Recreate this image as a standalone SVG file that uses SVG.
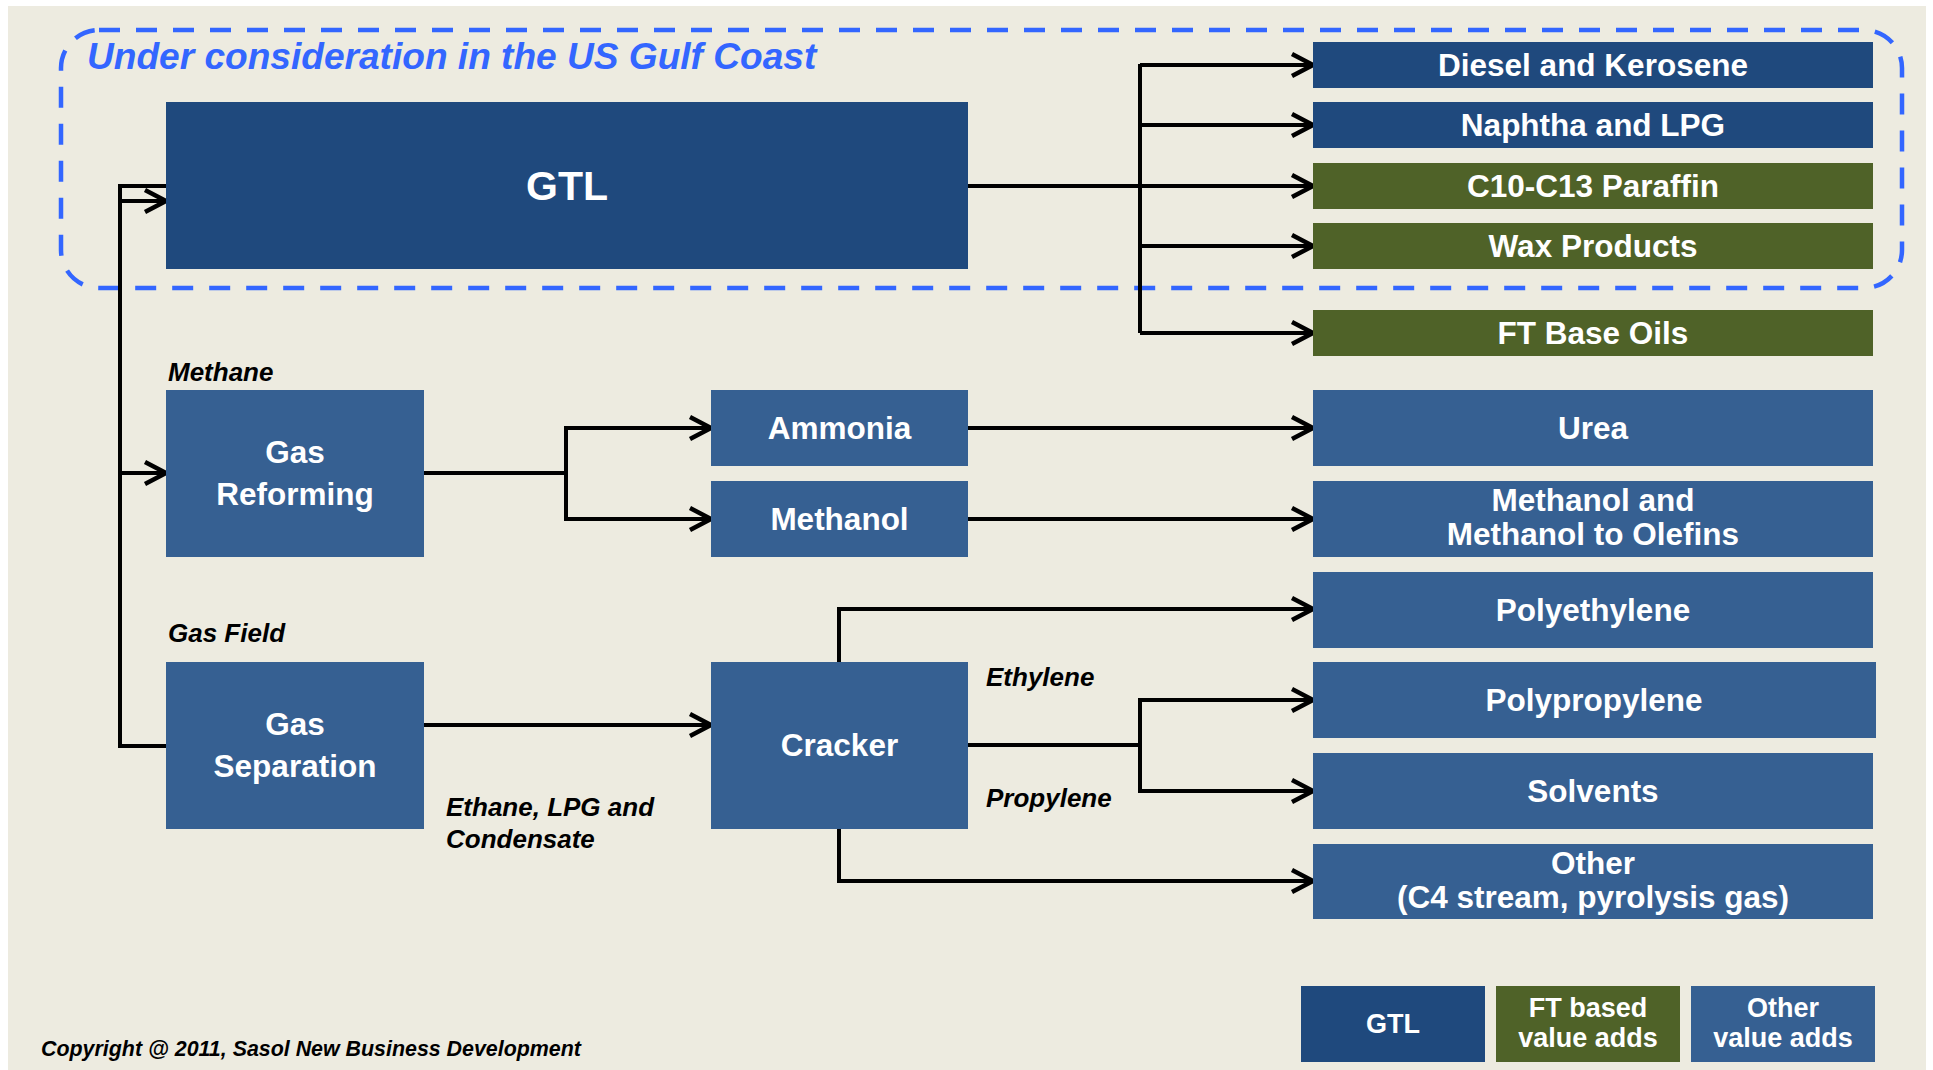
<svg xmlns="http://www.w3.org/2000/svg" width="1933" height="1070" viewBox="0 0 1933 1070">
  <defs>
    <style>
      .bg { fill: #EDEBE0; }
      .gtl { fill: #1F497D; }
      .ft { fill: #4F6228; }
      .oth { fill: #366092; }
      .t { font-family: "Liberation Sans", Arial, sans-serif; font-weight: bold; fill: #FFFFFF; text-anchor: middle; font-size: 31.5px; }
      .big { font-size: 41px; }
      .lbl { font-family: "Liberation Sans", Arial, sans-serif; font-weight: bold; font-style: italic; fill: #000000; font-size: 26px; }
      .leg { font-family: "Liberation Sans", Arial, sans-serif; font-weight: bold; fill: #FFFFFF; text-anchor: middle; font-size: 27px; }
      .ln { fill: none; stroke: #000000; stroke-width: 4; }
      .ar { fill: none; stroke: #000000; stroke-width: 4; marker-end: url(#arrow); }
    </style>
    <marker id="arrow" markerUnits="userSpaceOnUse" markerWidth="30" markerHeight="30" refX="24" refY="15" orient="auto" overflow="visible">
      <path d="M3,4 L24,15 L3,26" fill="none" stroke="#000000" stroke-width="4.5" stroke-linejoin="miter"/>
    </marker>
  </defs>

  <rect x="0" y="0" width="1933" height="1070" fill="#FFFFFF"/>
  <rect class="bg" x="8" y="6" width="1918" height="1064"/>

  <g id="gulf-coast-region">
    <rect x="61" y="30" width="1841" height="258" rx="38" ry="38" fill="none" stroke="#3366FF" stroke-width="4.5" stroke-dasharray="21 16"/>
    <text x="87" y="69" font-family="'Liberation Sans', Arial, sans-serif" font-weight="bold" font-style="italic" font-size="37.1" fill="#3366FF">Under consideration in the US Gulf Coast</text>
  </g>

  <g id="connectors">
    <path class="ln" d="M166,746 H120 V186 H166"/>
    <path class="ar" d="M120,201 H166"/>
    <path class="ar" d="M120,473 H166"/>
    <path class="ln" d="M968,186 H1140 M1140,64 V333"/>
    <path class="ar" d="M1140,65 H1313"/>
    <path class="ar" d="M1140,125 H1313"/>
    <path class="ar" d="M1140,186 H1313"/>
    <path class="ar" d="M1140,246 H1313"/>
    <path class="ar" d="M1140,333 H1313"/>
    <path class="ln" d="M424,473 H566 M566,426 V521"/>
    <path class="ar" d="M566,428 H711"/>
    <path class="ar" d="M566,519 H711"/>
    <path class="ar" d="M968,428 H1313"/>
    <path class="ar" d="M968,519 H1313"/>
    <path class="ar" d="M424,725 H711"/>
    <path class="ar" d="M839,662 V609 H1313"/>
    <path class="ar" d="M839,829 V881 H1313"/>
    <path class="ln" d="M968,745 H1140 M1140,698 V793"/>
    <path class="ar" d="M1140,700 H1313"/>
    <path class="ar" d="M1140,791 H1313"/>
  </g>

  <g id="node-gtl">
    <rect class="gtl" x="166" y="102" width="802" height="167"/>
    <text class="t big" x="567" y="200">GTL</text>
  </g>

  <g id="node-diesel">
    <rect class="gtl" x="1313" y="42" width="560" height="46"/>
    <text class="t" x="1593" y="76">Diesel and Kerosene</text>
  </g>
  <g id="node-naphtha">
    <rect class="gtl" x="1313" y="102" width="560" height="46"/>
    <text class="t" x="1593" y="136">Naphtha and LPG</text>
  </g>
  <g id="node-paraffin">
    <rect class="ft" x="1313" y="163" width="560" height="46"/>
    <text class="t" x="1593" y="197">C10-C13 Paraffin</text>
  </g>
  <g id="node-wax">
    <rect class="ft" x="1313" y="223" width="560" height="46"/>
    <text class="t" x="1593" y="257">Wax Products</text>
  </g>
  <g id="node-baseoils">
    <rect class="ft" x="1313" y="310" width="560" height="46"/>
    <text class="t" x="1593" y="344">FT Base Oils</text>
  </g>

  <g id="label-methane"><text class="lbl" x="168" y="381">Methane</text></g>
  <g id="label-gasfield"><text class="lbl" x="168" y="642">Gas Field</text></g>
  <g id="label-ethane">
    <text class="lbl" x="446" y="816">Ethane, LPG and</text>
    <text class="lbl" x="446" y="848">Condensate</text>
  </g>
  <g id="label-ethylene"><text class="lbl" x="986" y="686">Ethylene</text></g>
  <g id="label-propylene"><text class="lbl" x="986" y="807">Propylene</text></g>

  <g id="node-gas-reforming">
    <rect class="oth" x="166" y="390" width="258" height="167"/>
    <text class="t" x="295" y="463">Gas</text>
    <text class="t" x="295" y="505">Reforming</text>
  </g>
  <g id="node-ammonia">
    <rect class="oth" x="711" y="390" width="257" height="76"/>
    <text class="t" x="839.5" y="439">Ammonia</text>
  </g>
  <g id="node-methanol">
    <rect class="oth" x="711" y="481" width="257" height="76"/>
    <text class="t" x="839.5" y="530">Methanol</text>
  </g>
  <g id="node-gas-separation">
    <rect class="oth" x="166" y="662" width="258" height="167"/>
    <text class="t" x="295" y="735">Gas</text>
    <text class="t" x="295" y="777">Separation</text>
  </g>
  <g id="node-cracker">
    <rect class="oth" x="711" y="662" width="257" height="167"/>
    <text class="t" x="839.5" y="756">Cracker</text>
  </g>

  <g id="node-urea">
    <rect class="oth" x="1313" y="390" width="560" height="76"/>
    <text class="t" x="1593" y="439">Urea</text>
  </g>
  <g id="node-mto">
    <rect class="oth" x="1313" y="481" width="560" height="76"/>
    <text class="t" x="1593" y="511">Methanol and</text>
    <text class="t" x="1593" y="545">Methanol to Olefins</text>
  </g>
  <g id="node-polyethylene">
    <rect class="oth" x="1313" y="572" width="560" height="76"/>
    <text class="t" x="1593" y="621">Polyethylene</text>
  </g>
  <g id="node-polypropylene">
    <rect class="oth" x="1313" y="662" width="563" height="76"/>
    <text class="t" x="1594" y="711">Polypropylene</text>
  </g>
  <g id="node-solvents">
    <rect class="oth" x="1313" y="753" width="560" height="76"/>
    <text class="t" x="1593" y="802">Solvents</text>
  </g>
  <g id="node-other">
    <rect class="oth" x="1313" y="844" width="560" height="75"/>
    <text class="t" x="1593" y="874">Other</text>
    <text class="t" x="1593" y="908">(C4 stream, pyrolysis gas)</text>
  </g>

  <g id="legend">
    <g id="legend-gtl">
      <rect class="gtl" x="1301" y="986" width="184" height="76"/>
      <text class="leg" x="1393" y="1033">GTL</text>
    </g>
    <g id="legend-ft">
      <rect class="ft" x="1496" y="986" width="184" height="76"/>
      <text class="leg" x="1588" y="1017">FT based</text>
      <text class="leg" x="1588" y="1047">value adds</text>
    </g>
    <g id="legend-other">
      <rect class="oth" x="1691" y="986" width="184" height="76"/>
      <text class="leg" x="1783" y="1017">Other</text>
      <text class="leg" x="1783" y="1047">value adds</text>
    </g>
  </g>

  <g id="copyright">
    <text x="41" y="1056" font-family="'Liberation Sans', Arial, sans-serif" font-weight="bold" font-style="italic" font-size="21.4" fill="#000000">Copyright @ 2011, Sasol New Business Development</text>
  </g>
</svg>
